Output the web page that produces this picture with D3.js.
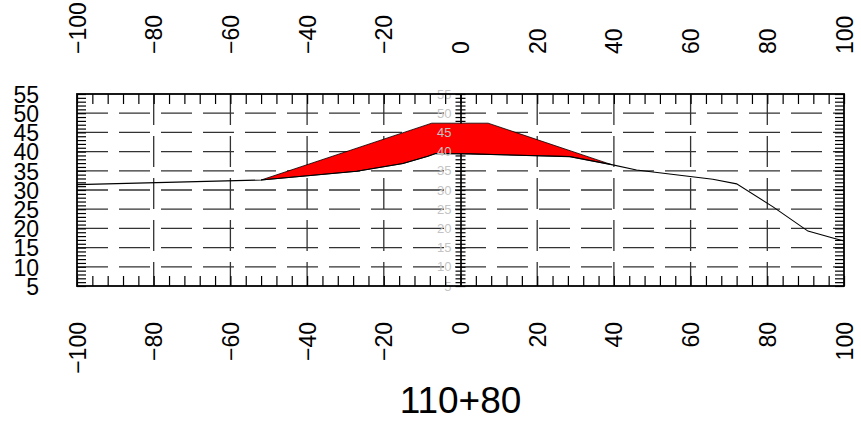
<!DOCTYPE html>
<html><head><meta charset="utf-8">
<script src="https://cdn.jsdelivr.net/npm/d3@7"></script>
<style>
html,body{margin:0;padding:0;background:#fff;}
svg text{font-family:"Liberation Sans",Arial,sans-serif;}
</style></head>
<body><svg id="c" width="861" height="425"></svg>
<script>
// ---- data ----
const xLabels = [-100,-80,-60,-40,-20,0,20,40,60,80,100];
const yLabels = [5,10,15,20,25,30,35,40,45,50,55];
const groundX = [-100,-52,-27,-15,-8.5,-6.5,2.5,28.5,39.4,45.9,65.8,72,81.5,90.6,97.1,100];
const groundY = [31.4,32.6,34.9,36.9,38.8,39.5,39.4,38.7,36.6,35.2,32.8,31.6,25.6,19.3,17.5,16.7];
const designX = [-52,-7.5,7.2,39.4];
const designY = [32.6,47.4,47.4,36.6];
const title = "110+80";

const svg = d3.select("#c");
const L=77,R=844,T=94,B=286;
const x = d3.scaleLinear().domain([-100,100]).range([L,R]);
const y = d3.scaleLinear().domain([5,55]).range([B,T]);
const fmt = d => d<0 ? "\u2212"+Math.abs(d) : String(d);

// grid
const gridH = yLabels.filter(v=>v>5&&v<55);
const gridV = xLabels.filter(v=>v>-100&&v<100&&v!==0);
svg.append("g").selectAll("line").data(gridH).join("line")
  .attr("x1",L).attr("x2",R).attr("y1",d=>y(d)).attr("y2",d=>y(d))
  .attr("stroke","#333").attr("stroke-width",1.3).attr("stroke-dasharray","31,11");
svg.append("g").selectAll("line").data(gridV).join("line")
  .attr("x1",d=>x(d)).attr("x2",d=>x(d)).attr("y1",T).attr("y2",B)
  .attr("stroke","#333").attr("stroke-width",1.3).attr("stroke-dasharray","31,11");

// center axis ticks
const cVals = d3.range(5,56,1);
const cl = svg.append("g").attr("transform",`translate(${x(0)},0)`).call(d3.axisLeft(y).tickValues(cVals).tickSize(5).tickFormat("").tickSizeOuter(0));
const cr = svg.append("g").attr("transform",`translate(${x(0)},0)`).call(d3.axisRight(y).tickValues(cVals).tickSize(5).tickFormat("").tickSizeOuter(0));
[cl,cr].forEach(g=>{g.selectAll("line,path").attr("stroke","#000").attr("stroke-width",1.2);});

// fill between design and ground
const polyPts = designX.map((d,i)=>[d,designY[i]]);
const gsub = groundX.map((d,i)=>[d,groundY[i]]).filter(p=>p[0]>=-52&&p[0]<=39.4).reverse();
const allPts = polyPts.concat(gsub);
svg.append("path").attr("d", d3.line().x(d=>x(d[0])).y(d=>y(d[1]))(allPts)+"Z")
  .attr("fill","#ff0000").attr("stroke","#000").attr("stroke-width",0.8);
svg.append("path").attr("d", d3.line().x((d,i)=>x(d)).y((d,i)=>y(groundY[i]))(groundX))
  .attr("fill","none").attr("stroke","#000").attr("stroke-width",1.1);

// center gray labels
svg.append("g").selectAll("text").data(yLabels).join("text")
  .attr("x",x(0)-9).attr("y",d=>y(d)).attr("text-anchor","end").attr("dominant-baseline","central")
  .attr("font-size",13).attr("fill","#c4c4c4").text(d=>d);

// frame ticks
function styleAx(g){g.selectAll("line").attr("stroke","#000").attr("stroke-width",1.2);g.select(".domain").remove();}
const tVals = d3.range(-100,101,4);
styleAx(svg.append("g").attr("transform",`translate(0,${T})`).call(d3.axisTop(x).tickValues(tVals).tickSize(-10).tickFormat("")));
styleAx(svg.append("g").attr("transform",`translate(0,${B})`).call(d3.axisBottom(x).tickValues(tVals).tickSize(-10).tickFormat("")));
styleAx(svg.append("g").attr("transform",`translate(${L},0)`).call(d3.axisLeft(y).tickValues(cVals).tickSize(-9).tickFormat("")));
styleAx(svg.append("g").attr("transform",`translate(${R},0)`).call(d3.axisRight(y).tickValues(cVals).tickSize(-9).tickFormat("")));

svg.append("rect").attr("x",L).attr("y",T).attr("width",R-L).attr("height",B-T)
  .attr("fill","none").attr("stroke","#000").attr("stroke-width",1.8);

// axis labels
const topAx = svg.append("g").attr("transform",`translate(0,54)`).call(d3.axisTop(x).tickValues(xLabels).tickSize(0).tickFormat(fmt));
topAx.select(".domain").remove();
topAx.selectAll("text").attr("transform","rotate(-90)").attr("x",0).attr("y",0).attr("dy","0.35em")
  .attr("text-anchor","start").attr("font-size",23).attr("fill","#000").attr("font-family","Liberation Sans, Arial, sans-serif");
const botAx = svg.append("g").attr("transform",`translate(0,322)`).call(d3.axisBottom(x).tickValues(xLabels).tickSize(0).tickFormat(fmt));
botAx.select(".domain").remove();
botAx.selectAll("text").attr("transform","rotate(-90)").attr("x",0).attr("y",0).attr("dy","0.35em")
  .attr("text-anchor","end").attr("font-size",23).attr("fill","#000").attr("font-family","Liberation Sans, Arial, sans-serif");
const leftAx = svg.append("g").attr("transform",`translate(39,0)`).call(d3.axisLeft(y).tickValues(yLabels).tickSize(0).tickPadding(0).tickFormat(d=>d));
leftAx.select(".domain").remove();
leftAx.selectAll("text").attr("font-size",23).attr("fill","#000").attr("font-family","Liberation Sans, Arial, sans-serif").attr("dy","0.36em");

svg.append("text").attr("x",(L+R)/2).attr("y",413).attr("text-anchor","middle")
  .attr("font-size",37).attr("fill","#000").text(title);
</script></body></html>
